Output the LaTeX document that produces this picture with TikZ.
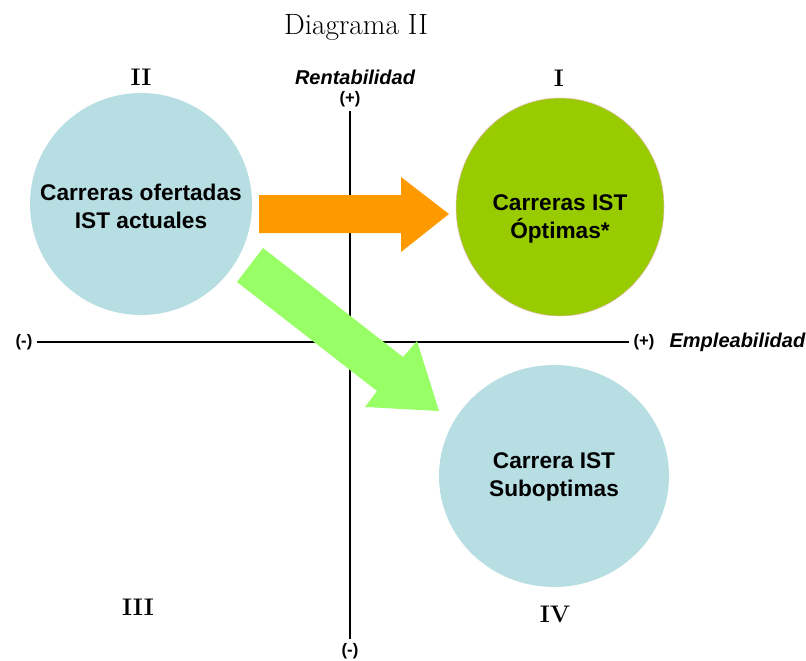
\documentclass[tikz,border=0pt]{standalone}
\usepackage{fontspec}
\setsansfont{Liberation Sans}
\usetikzlibrary{positioning,shapes.geometric}

\definecolor{circblue}{HTML}{B7DEE2}
\definecolor{optgreen}{HTML}{99CC00}
\definecolor{rimpink}{HTML}{E6B9B8}
\definecolor{arroworange}{HTML}{FF9900}
\definecolor{arrowgreen}{HTML}{99FF66}

\tikzset{
	career/.style={ellipse, inner sep=0pt},
	careertext/.style={align=center, font=\sffamily\bfseries\fontsize{17}{21}\selectfont},
	quadrant/.style={font=\bfseries\fontsize{18}{20}\selectfont},
	axislabel/.style={font=\sffamily\bfseries\fontsize{12.5}{14}\selectfont, inner sep=3pt},
	axisname/.style={font=\sffamily\bfseries\itshape\fontsize{15}{17}\selectfont, inner sep=0pt},
	axis/.style={line width=2.2pt}
}

\begin{document}
\begin{tikzpicture}[x=0.75pt,y=-0.75pt]
	
	\useasboundingbox (0,0) rectangle (806,660);
	
	\node[font=\fontsize{22}{26}\selectfont] (title) at (356,27) {Diagrama II};
	
	% Axes
	\node[axislabel] (xneg) at (24,342) {(-)};
	\node[axislabel] (xpos) at (644,342) {(+)};
	\node[axislabel] (ypos) at (350,99) {(+)};
	\node[axislabel] (yneg) at (350,651) {(-)};
	\node[axisname, right=8pt of xpos] (empleab) {Empleabilidad};
	\node[axisname] (rentab) at (355,77) {Rentabilidad};
	
	\draw[axis] (xneg.east) -- (xpos.west);
	\draw[axis] (ypos.south) -- (yneg.north);
	
	% Quadrants
	\node[quadrant] (qone) at (559,78) {I};
	\node[quadrant] (qtwo) at (141,77) {II};
	\node[quadrant] (qthree) at (138,607) {III};
	\node[quadrant] (qfour) at (555,614) {IV};
	
	% Careers
	\node[career, fill=circblue, minimum width=222*0.75pt, minimum height=222*0.75pt] (actual) at (141,204) {};
	\node[career, fill=optgreen, draw=rimpink, thin, minimum width=208*0.75pt, minimum height=218*0.75pt] (optimas) at (560,207) {};
	\node[career, fill=circblue, minimum width=230*0.75pt, minimum height=222*0.75pt] (subopt) at (554,476) {};
	
	\node[careertext] (actualtext) at (141,206) {Carreras ofertadas\\IST actuales};
	\node[careertext] (optimastext) at (560,219) {Carreras IST\\Óptimas*};
	\node[careertext] (subopttext) at (554,477) {Carrera IST\\Suboptimas};
	
	% Arrows
	\fill[arroworange] (259,195) -- (401,195) -- (401,177) -- (449,214) -- (401,252) -- (401,233) -- (259,233) -- cycle;
	\fill[arrowgreen] (263,248) -- (403,357) -- (417,341) -- (439,411) -- (365,407) -- (377,391) -- (237,282) -- cycle;
	
\end{tikzpicture}
\end{document}
